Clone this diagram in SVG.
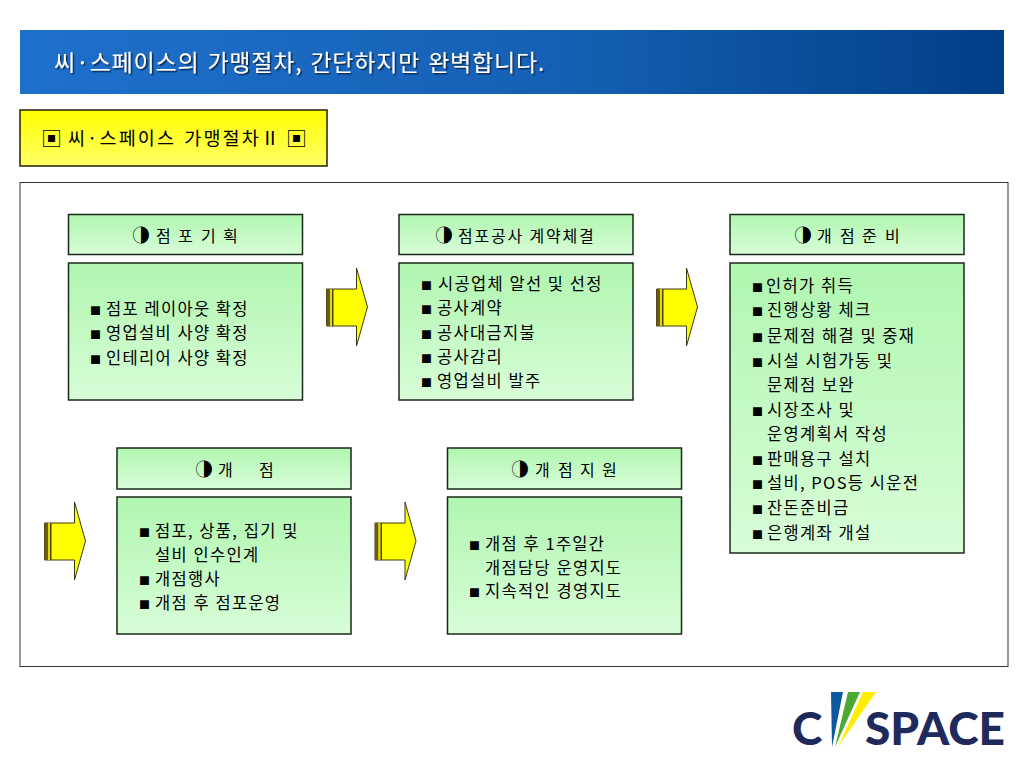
<svg xmlns="http://www.w3.org/2000/svg" width="1024" height="768" viewBox="0 0 1024 768">
<style>
text{font-family:"Noto Sans CJK KR","Noto Sans",sans-serif;fill:#000}
.box{stroke:#1a2a1a;stroke-width:1.5;fill:url(#green)}
.hd{font-size:16px}
.cir{font-size:18px}
.ln{font-size:16.5px;letter-spacing:1.3px;word-spacing:0.5px}
.bu{font-size:11px}
.title{font-size:23px;fill:#fff;letter-spacing:0.8px;word-spacing:2px;filter:url(#sh)}
.sub{font-size:18.5px;letter-spacing:2.1px;word-spacing:2px}
.mk{font-size:21px}
.logo{font-family:Lato,"Liberation Sans",sans-serif;font-weight:900;fill:#1f2a5c;font-size:46px}
</style>
<defs>
<linearGradient id="blue" x1="0" x2="1" y1="0" y2="0"><stop offset="0" stop-color="#1f70cc"/><stop offset="0.55" stop-color="#1560b4"/><stop offset="1" stop-color="#003f86"/></linearGradient>
<linearGradient id="yel" x1="0" x2="0" y1="0" y2="1"><stop offset="0" stop-color="#ffff00"/><stop offset="1" stop-color="#ffff66"/></linearGradient>
<linearGradient id="green" x1="0" x2="0" y1="0" y2="1"><stop offset="0" stop-color="#b0f6b0"/><stop offset="1" stop-color="#d8fdd8"/></linearGradient>
<filter id="sh" x="-5%" y="-20%" width="110%" height="140%"><feDropShadow dx="1.5" dy="1.5" stdDeviation="0.4" flood-color="#0a2a55"/></filter>
<g id="arrow">
<polygon points="0,21 30,21 30,0 41,39 30,78 30,58 0,58" fill="#ffff00" stroke="#3a3a10" stroke-width="1"/>
<rect x="0" y="21" width="3.5" height="37" fill="#6b5a1a"/>
<rect x="3.5" y="21" width="2" height="37" fill="#e6d800"/>
<rect x="5.5" y="21" width="1.5" height="37" fill="#4a4410"/>
</g>
</defs>
<rect id="banner" x="20" y="30" width="984" height="64" fill="url(#blue)"/>
<text class="title" x="54" y="71">씨·스페이스의 가맹절차, 간단하지만 완벽합니다.</text>
<g id="subtitle">
<rect x="20" y="110" width="307" height="56" fill="url(#yel)" stroke="#222200" stroke-width="1.5"/>
<text class="mk" x="41" y="146">▣</text>
<text class="sub" x="68" y="145">씨·스페이스 가맹절차Ⅱ</text>
<text class="mk" x="286" y="146">▣</text>
</g>
<rect id="frame" x="20" y="182.500" width="988" height="484" fill="#fff" stroke="#333" stroke-width="1"/>
<g id="connectors">
<use href="#arrow" x="326.500" y="268"/>
<use href="#arrow" x="656.500" y="268"/>
<use href="#arrow" x="44.500" y="502"/>
<use href="#arrow" x="375" y="502"/>
</g>
<g id="node-plan">
<rect class="box" x="68.500" y="214.500" width="234" height="40"/>
<text class="hd" y="242"><tspan class="cir" x="132">◑</tspan><tspan x="156">점</tspan><tspan x="178">포</tspan><tspan x="201">기</tspan><tspan x="223">획</tspan></text>
<rect class="box" x="68.500" y="263" width="234" height="137"/>
<text class="ln" x="90" y="315"><tspan class="bu">■</tspan><tspan x="106">점포 레이아웃 확정</tspan></text>
<text class="ln" x="90" y="339"><tspan class="bu">■</tspan><tspan x="106">영업설비 사양 확정</tspan></text>
<text class="ln" x="90" y="364"><tspan class="bu">■</tspan><tspan x="106">인테리어 사양 확정</tspan></text>
</g>
<g id="node-contract">
<rect class="box" x="399" y="214.500" width="234" height="40"/>
<text class="hd" y="242"><tspan class="cir" x="435">◑</tspan><tspan x="458" letter-spacing="1.8">점포공사 계약체결</tspan></text>
<rect class="box" x="399" y="263" width="234" height="137"/>
<text class="ln" x="421" y="290"><tspan class="bu">■</tspan><tspan x="438">시공업체 알선 및 선정</tspan></text>
<text class="ln" x="421" y="314"><tspan class="bu">■</tspan><tspan x="437">공사계약</tspan></text>
<text class="ln" x="421" y="339"><tspan class="bu">■</tspan><tspan x="437">공사대금지불</tspan></text>
<text class="ln" x="421" y="363"><tspan class="bu">■</tspan><tspan x="437">공사감리</tspan></text>
<text class="ln" x="421" y="387"><tspan class="bu">■</tspan><tspan x="437">영업설비 발주</tspan></text>
</g>
<g id="node-prep">
<rect class="box" x="730" y="214.500" width="234" height="40"/>
<text class="hd" y="242"><tspan class="cir" x="794">◑</tspan><tspan x="817">개</tspan><tspan x="840">점</tspan><tspan x="862">준</tspan><tspan x="885">비</tspan></text>
<rect class="box" x="730" y="263" width="234" height="290"/>
<text class="ln" x="752" y="292"><tspan class="bu">■</tspan><tspan x="766">인허가 취득</tspan></text>
<text class="ln" x="752" y="316"><tspan class="bu">■</tspan><tspan x="767">진행상황 체크</tspan></text>
<text class="ln" x="752" y="342"><tspan class="bu">■</tspan><tspan x="767">문제점 해결 및 중재</tspan></text>
<text class="ln" x="752" y="367"><tspan class="bu">■</tspan><tspan x="767">시설 시험가동 및</tspan></text>
<text class="ln" x="767" y="391">문제점 보완</text>
<text class="ln" x="752" y="416"><tspan class="bu">■</tspan><tspan x="767">시장조사 및</tspan></text>
<text class="ln" x="767" y="440">운영계획서 작성</text>
<text class="ln" x="752" y="465"><tspan class="bu">■</tspan><tspan x="767">판매용구 설치</tspan></text>
<text class="ln" x="752" y="489"><tspan class="bu">■</tspan><tspan x="767">설비, POS등 시운전</tspan></text>
<text class="ln" x="752" y="514"><tspan class="bu">■</tspan><tspan x="767">잔돈준비금</tspan></text>
<text class="ln" x="752" y="539"><tspan class="bu">■</tspan><tspan x="767">은행계좌 개설</tspan></text>
</g>
<g id="node-open">
<rect class="box" x="117" y="448" width="234" height="41"/>
<text class="hd" y="476"><tspan class="cir" x="195">◑</tspan><tspan x="218">개</tspan><tspan x="259">점</tspan></text>
<rect class="box" x="117" y="497" width="234" height="137"/>
<text class="ln" x="139" y="537"><tspan class="bu">■</tspan><tspan x="155">점포, 상품, 집기 및</tspan></text>
<text class="ln" x="155" y="561">설비 인수인계</text>
<text class="ln" x="139" y="585"><tspan class="bu">■</tspan><tspan x="155">개점행사</tspan></text>
<text class="ln" x="139" y="609"><tspan class="bu">■</tspan><tspan x="155">개점 후 점포운영</tspan></text>
</g>
<g id="node-support">
<rect class="box" x="447.500" y="448" width="234" height="41"/>
<text class="hd" y="476"><tspan class="cir" x="511">◑</tspan><tspan x="535">개</tspan><tspan x="558">점</tspan><tspan x="580">지</tspan><tspan x="602">원</tspan></text>
<rect class="box" x="447.500" y="497" width="234" height="137"/>
<text class="ln" x="469" y="550"><tspan class="bu">■</tspan><tspan x="485">개점 후 1주일간</tspan></text>
<text class="ln" x="485" y="574">개점담당 운영지도</text>
<text class="ln" x="469" y="597"><tspan class="bu">■</tspan><tspan x="485">지속적인 경영지도</tspan></text>
</g>
<g id="logo">
<polygon points="831,692 843,692 832,747" fill="#0b5aa0"/>
<polygon points="848,692 860,692 835,747" fill="#4caa32"/>
<polygon points="863,692 876,692 838,747" fill="#ffee00"/>
<text class="logo" x="792" y="745">C</text>
<text class="logo" x="865" y="745" textLength="140" lengthAdjust="spacingAndGlyphs">SPACE</text>
</g>
</svg>
